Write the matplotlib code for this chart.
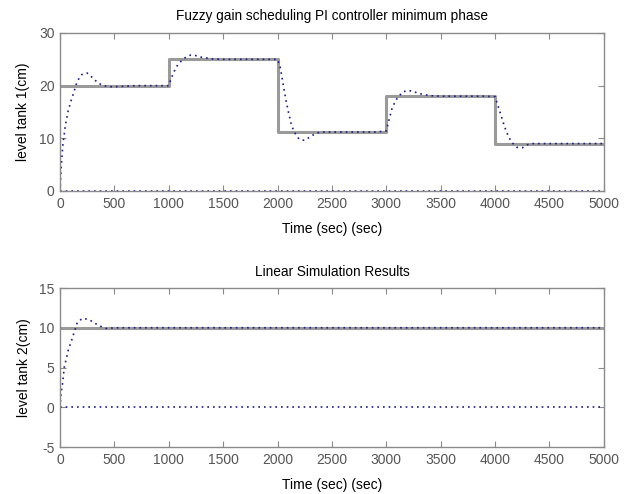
import numpy as np
import matplotlib.pyplot as plt

plt.rcParams['font.family'] = ['Liberation Sans', 'DejaVu Sans']
plt.rcParams['axes.unicode_minus'] = False

# reference (set point) steps, tank 1
ref1_t = [0, 1000, 2000, 3000, 4000, 5000]
ref1_y = [20, 25, 11.2, 18, 9, 9]

# response tank 1
resp1_t = [0, 10, 25, 50, 75, 100, 125, 150, 175, 200, 250, 300, 350, 400, 450, 500, 600, 700, 800, 900,
           1000, 1025, 1050, 1075, 1100, 1150, 1200, 1250, 1300, 1400, 1500, 1700, 1900,
           2000, 2025, 2050, 2075, 2100, 2125, 2150, 2200, 2250, 2300, 2350, 2400, 2500, 2700, 2900,
           3000, 3025, 3050, 3075, 3100, 3150, 3200, 3250, 3300, 3400, 3500, 3700, 3900,
           4000, 4025, 4050, 4075, 4100, 4125, 4150, 4200, 4250, 4300, 4350, 4400, 4600, 4800, 5000]
resp1_y = [0, 4, 8.5, 12.5, 15.2, 17, 18.6, 20.3, 21.4, 22.1, 22.4, 21.5, 20.5, 20.0, 19.8, 19.8, 19.9, 20, 20, 20,
           20, 21.5, 22.7, 23.7, 24.4, 25.3, 25.8, 25.7, 25.4, 25.1, 25, 25, 25,
           25, 23.5, 20.5, 17.5, 15, 12.8, 11.3, 9.8, 9.6, 10.3, 10.9, 11.2, 11.2, 11.2, 11.2,
           11.4, 13.5, 15.5, 16.7, 17.6, 18.8, 19.1, 18.9, 18.5, 18.1, 18, 18, 18,
           17.9, 16.3, 14.7, 13, 11.5, 10.3, 9.3, 8.3, 8.2, 8.8, 9, 9, 9, 9, 9]

# reference and response, tank 2
ref2_t = [0, 5000]
ref2_y = [10, 10]
resp2_t = [0, 10, 25, 40, 60, 80, 100, 120, 140, 160, 210, 270, 330, 385, 430, 500, 1000, 2000, 3000, 4000, 5000]
resp2_y = [0, 1.8, 3.1, 5.1, 6.2, 7.4, 8.1, 9.0, 9.8, 10.7, 11.2, 11.0, 10.5, 10.1, 9.9, 10, 10, 10, 10, 10, 10]

zero_t = [0, 5000]
zero_y = [0, 0]

gray = '#9a9a9a'
blue = '#1c1c8a'
spine = '#8a8a8a'


def style(ax, ylim, yticks):
    ax.set_xlim(0, 5000)
    ax.set_ylim(*ylim)
    ax.set_xticks(np.arange(0, 5001, 500))
    ax.set_yticks(yticks)
    ax.tick_params(direction='in', top=True, right=True, length=4, width=0.8,
                   colors=spine, labelcolor='#555555', labelsize=10, pad=4)
    for s in ax.spines.values():
        s.set_color(spine)
        s.set_linewidth(1.0)
    ax.set_xlabel('Time (sec) (sec)', fontsize=10, labelpad=8)


fig = plt.figure(figsize=(6.28, 4.94), dpi=100)
ax1 = fig.add_axes([0.0955, 0.6134, 0.866, 0.3198])
ax2 = fig.add_axes([0.0955, 0.0951, 0.866, 0.3219])

ax1.plot(ref1_t, ref1_y, color=gray, lw=2.2, drawstyle='steps-post')
ax1.plot(resp1_t, resp1_y, color=blue, lw=1.2, dashes=(1, 2.4))
ax1.plot(zero_t, zero_y, color=blue, lw=1.2, dashes=(1, 2.4))
style(ax1, (0, 30), [0, 10, 20, 30])
ax1.set_ylabel('level tank 1(cm)', fontsize=10, labelpad=6)
ax1.set_title('Fuzzy gain scheduling PI controller minimum phase', fontsize=9.8, pad=9)

ax2.plot(ref2_t, ref2_y, color=gray, lw=2.2)
ax2.plot(resp2_t, resp2_y, color=blue, lw=1.2, dashes=(1, 2.4))
ax2.plot(zero_t, zero_y, color=blue, lw=1.2, dashes=(1, 2.4))
style(ax2, (-5, 15), [-5, 0, 5, 10, 15])
ax2.set_ylabel('level tank 2(cm)', fontsize=10, labelpad=6)
ax2.set_title('Linear Simulation Results', fontsize=9.8, pad=9)

fig.savefig('out.png', dpi=100)
